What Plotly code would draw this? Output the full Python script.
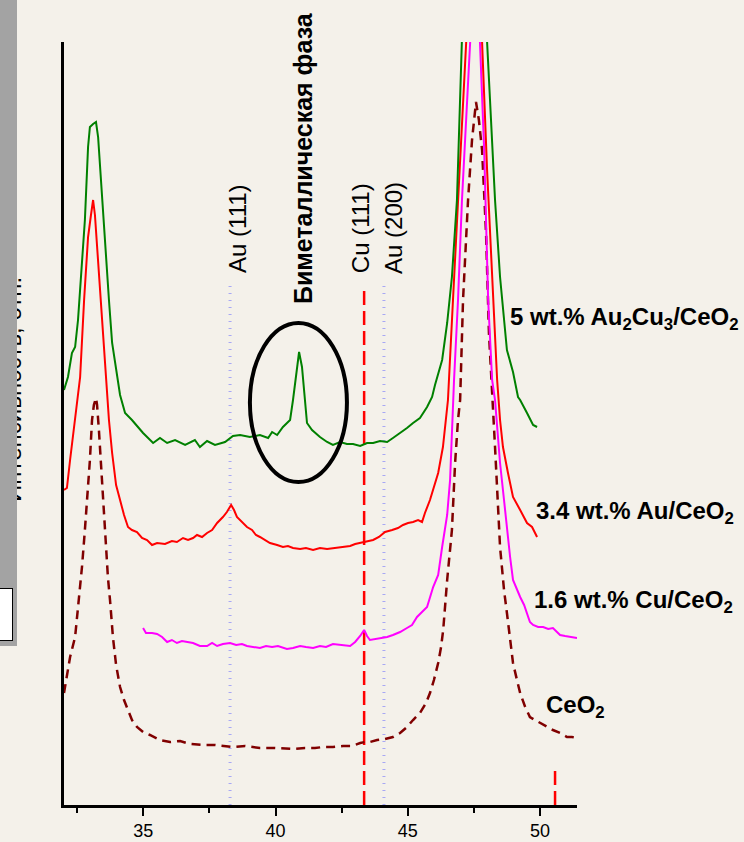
import plotly.graph_objects as go

# ---------------- data (2θ in degrees, intensity in arbitrary units) ----------------
tt_au2cu3 = [32.00, 32.15, 32.30, 32.42, 32.53, 32.68, 32.79, 32.91, 32.98, 33.10, 33.21, 33.29,
             33.44, 33.63, 33.70, 33.82, 34.00, 34.12, 34.31, 34.57, 34.99, 35.37, 35.63, 35.90,
             36.20, 36.58, 36.95, 37.14, 37.41, 37.71, 38.09, 38.39, 38.66, 39.03, 39.41, 39.72,
             39.87, 40.06, 40.28, 40.55, 40.66, 40.81, 40.89, 41.00, 41.19, 41.38, 41.68, 41.95,
             42.17, 42.44, 42.70, 42.93, 43.20, 43.46, 43.69, 43.95, 44.22, 44.44, 44.71, 44.97,
             45.20, 45.46, 45.73, 45.92, 46.03, 46.30, 46.49, 46.67, 46.86, 47.05, 47.30, 47.50,
             47.70, 48.00, 48.30, 48.49, 48.75, 48.98, 49.17, 49.25, 49.51, 49.74, 49.89]
i_au2cu3 = [415, 428, 452, 458, 485, 538, 585, 658, 678, 681, 683, 668,
            608, 522, 505, 462, 432, 410, 392, 385, 372, 362, 367, 362,
            365, 360, 365, 358, 364, 360, 363, 369, 370, 368, 370, 367,
            373, 370, 378, 385, 405, 438, 453, 438, 382, 375, 368, 363,
            360, 363, 361, 361, 359, 362, 362, 364, 363, 367, 372, 377,
            382, 387, 398, 408, 420, 445, 482, 528, 605, 763, 960, 1150,
            980, 763, 605, 528, 455, 433, 408, 405, 392, 380, 378]

tt_au = [32.00, 32.11, 32.23, 32.42, 32.61, 32.76, 32.91, 33.02, 33.10, 33.17, 33.29, 33.44,
         33.59, 33.70, 33.82, 33.97, 34.12, 34.27, 34.42, 34.57, 34.76, 34.95, 35.14, 35.33,
         35.52, 35.82, 36.08, 36.27, 36.50, 36.69, 36.88, 37.03, 37.22, 37.41, 37.60, 37.79,
         38.01, 38.16, 38.32, 38.43, 38.54, 38.73, 38.92, 39.11, 39.26, 39.41, 39.60, 39.79,
         40.06, 40.28, 40.47, 40.66, 40.93, 41.15, 41.42, 41.68, 41.95, 42.25, 42.55, 42.82,
         43.01, 43.20, 43.42, 43.69, 43.91, 44.14, 44.41, 44.63, 44.82, 45.01, 45.20, 45.39,
         45.54, 45.65, 45.84, 46.03, 46.15, 46.33, 46.52, 46.71, 46.90, 47.05, 47.21, 47.50,
         47.81, 48.00, 48.23, 48.38, 48.49, 48.60, 48.79, 48.98, 49.25, 49.51, 49.70, 49.81,
         49.89]
i_au = [315, 317, 345, 385, 428, 505, 568, 590, 605, 590, 542, 492,
        428, 385, 352, 320, 305, 290, 278, 275, 273, 267, 265, 260,
        262, 261, 264, 263, 267, 265, 267, 270, 268, 272, 275, 282,
        288, 293, 300, 295, 288, 283, 278, 275, 270, 268, 265, 262,
        260, 258, 259, 257, 256, 257, 255, 257, 256, 257, 258, 259,
        261, 262, 263, 265, 268, 273, 275, 277, 280, 282, 283, 285,
        283, 292, 305, 322, 332, 358, 405, 505, 605, 685, 763, 1100,
        763, 635, 505, 425, 385, 358, 332, 308, 295, 282, 278, 272,
        268]

tt_cu = [34.99, 35.10, 35.33, 35.52, 35.71, 35.90, 36.08, 36.27, 36.46, 36.65, 36.88, 37.14,
         37.41, 37.60, 37.79, 38.01, 38.28, 38.51, 38.73, 38.92, 39.15, 39.41, 39.64, 39.87,
         40.09, 40.28, 40.43, 40.66, 40.93, 41.15, 41.42, 41.68, 41.91, 42.17, 42.44, 42.67,
         42.82, 43.01, 43.20, 43.35, 43.46, 43.57, 43.76, 43.95, 44.22, 44.44, 44.71, 44.97,
         45.16, 45.35, 45.54, 45.73, 45.96, 46.15, 46.30, 46.49, 46.60, 46.75, 46.90, 47.05,
         47.36, 47.55, 47.73, 47.89, 48.04, 48.19, 48.30, 48.49, 48.64, 48.75, 48.87, 48.98,
         49.13, 49.25, 49.40, 49.51, 49.62, 49.74, 49.93, 50.12, 50.31, 50.49, 50.65, 50.76,
         50.95, 51.14, 51.40]
i_cu = [177, 172, 172, 171, 168, 163, 165, 162, 164, 163, 162, 159,
        159, 162, 159, 161, 162, 160, 161, 159, 158, 157, 159, 158,
        159, 157, 156, 157, 159, 158, 157, 159, 158, 161, 160, 159,
        159, 163, 169, 175, 169, 165, 166, 167, 168, 170, 173, 177,
        180, 188, 193, 198, 218, 230, 258, 290, 325, 425, 505, 605,
        763, 1050, 763, 655, 505, 425, 405, 342, 305, 275, 248, 225,
        215, 208, 200, 192, 183, 180, 178, 178, 176, 177, 173, 170,
        169, 168, 167]

tt_ceo2 = [32.00, 32.23, 32.42, 32.61, 32.68, 32.79, 32.87, 32.98, 33.06, 33.13, 33.21, 33.25,
           33.32, 33.40, 33.48, 33.59, 33.66, 33.74, 33.85, 33.97, 34.12, 34.27, 34.42, 34.57,
           34.76, 34.99, 35.25, 35.63, 36.01, 36.39, 36.77, 37.26, 37.71, 38.09, 38.39, 38.85,
           39.41, 39.98, 40.66, 41.11, 41.49, 41.80, 42.17, 42.55, 42.89, 43.20, 43.38, 43.57,
           43.84, 44.14, 44.44, 44.71, 44.97, 45.20, 45.46, 45.69, 45.84, 45.99, 46.15, 46.26,
           46.34, 46.49, 46.60, 46.67, 46.79, 46.90, 46.98, 47.09, 47.28, 47.43, 47.58, 47.69,
           47.81, 47.96, 48.07, 48.19, 48.30, 48.49, 48.64, 48.75, 48.87, 48.98, 49.13, 49.25,
           49.44, 49.62, 49.81, 50.00, 50.27, 50.49, 50.76, 51.02, 51.21, 51.40]
i_ceo2 = [112, 148, 168, 215, 238, 275, 302, 345, 385, 400, 407, 400,
          375, 340, 312, 260, 228, 205, 168, 140, 118, 105, 95, 85,
          78, 73, 70, 65, 63, 64, 61, 60, 60, 59, 58, 59,
          57, 57, 56, 57, 57, 58, 58, 59, 59, 62, 63, 63,
          65, 66, 68, 72, 78, 85, 92, 102, 112, 125, 142, 158,
          175, 225, 255, 275, 342, 385, 405, 505, 605, 665, 703, 685,
          655, 572, 472, 405, 358, 258, 215, 192, 165, 142, 125, 112,
          98, 88, 85, 82, 78, 75, 72, 68, 68, 67]

ref_names = ["Au (111)", "Cu (111)", "Au (200)", "Cu (200)"]
ref_pos = [38.28, 43.35, 44.10, 50.57]
ref_top = [520, 520, 520, 40]

sample_labels = ["5 wt.% Au<sub>2</sub>Cu<sub>3</sub>/CeO<sub>2</sub>",
                 "3.4 wt.% Au/CeO<sub>2</sub>",
                 "1.6 wt.% Cu/CeO<sub>2</sub>",
                 "CeO<sub>2</sub>"]
x_ticks = [35, 40, 45, 50]

# ---------------- figure ----------------
BG = "#f4f1ea"
FONT = "Arial, Liberation Sans, sans-serif"

fig = go.Figure()

# reference lines
ref_styles = [dict(color="#a8a8f4", width=3, dash="1px,6px"),
              dict(color="#ff0000", width=2.5, dash="14px,6px"),
              dict(color="#a8a8f4", width=3, dash="1px,6px"),
              dict(color="#ff0000", width=2.5, dash="14px,6px")]
for xp, top, st, nm in zip(ref_pos, ref_top, ref_styles, ref_names):
    fig.add_trace(go.Scatter(x=[xp, xp], y=[0, top], mode="lines", line=st,
                             name=nm, showlegend=False, hoverinfo="skip"))

fig.add_trace(go.Scatter(x=tt_ceo2, y=i_ceo2, mode="lines", name="CeO2",
                         line=dict(color="#800000", width=2.5, dash="9px,6px"), showlegend=False))
fig.add_trace(go.Scatter(x=tt_cu, y=i_cu, mode="lines", name="1.6 wt.% Cu/CeO2",
                         line=dict(color="#ff00ff", width=2), showlegend=False))
fig.add_trace(go.Scatter(x=tt_au, y=i_au, mode="lines", name="3.4 wt.% Au/CeO2",
                         line=dict(color="#ff0000", width=2), showlegend=False))
fig.add_trace(go.Scatter(x=tt_au2cu3, y=i_au2cu3, mode="lines", name="5 wt.% Au2Cu3/CeO2",
                         line=dict(color="#008000", width=2), showlegend=False))

# ellipse around the bimetallic peak
fig.add_shape(type="circle", xref="x", yref="y", x0=39.03, x1=42.70, y0=323, y1=482,
              line=dict(color="black", width=4))

annotations = []
# rotated phase labels
for txt, xx, yy, bold, sz in [("Au (111)", 38.54, 577, False, 24),
                              ("Биметаллическая фаза", 41.04, 647, True, 25),
                              ("Cu (111)", 43.20, 577, False, 24),
                              ("Au (200)", 44.44, 577, False, 24)]:
    annotations.append(dict(text=("<b>%s</b>" % txt) if bold else txt, x=xx, y=yy,
                            xref="x", yref="y", showarrow=False, textangle=-90,
                            font=dict(family=FONT, size=sz, color="black"),
                            xanchor="center", yanchor="middle"))

# sample labels (paper coordinates)
for txt, px, py in zip(sample_labels, [508, 534, 532, 544], [319, 512, 601, 706]):
    annotations.append(dict(text="<b>%s</b>" % txt, x=(px - 64) / 513, y=(805 - py) / 763,
                            xref="paper", yref="paper", showarrow=False,
                            font=dict(family=FONT, size=24, color="black"),
                            xanchor="left", yanchor="middle"))

# cut-off y-axis title, then grey strip and white box on top
annotations.append(dict(text="Интенсивность, отн.", x=(12 - 64) / 513, y=(805 - 390) / 763,
                        xref="paper", yref="paper", showarrow=False, textangle=-90,
                        font=dict(family=FONT, size=24, color="black"),
                        xanchor="center", yanchor="middle"))
annotations.append(dict(text=" ", x=(0 - 64) / 513, y=(805 - 0) / 763, xref="paper", yref="paper",
                        showarrow=False, width=17, height=646, bgcolor="#a3a3a3",
                        borderwidth=0, borderpad=0, xanchor="left", yanchor="top"))
annotations.append(dict(text=" ", x=(-2 - 64) / 513, y=(805 - 588) / 763, xref="paper", yref="paper",
                        showarrow=False, width=13, height=51, bgcolor="white",
                        bordercolor="black", borderwidth=1, borderpad=0,
                        xanchor="left", yanchor="top"))

fig.update_layout(
    width=744, height=842,
    margin=dict(l=64, r=167, t=42, b=37, autoexpand=False),
    paper_bgcolor=BG, plot_bgcolor=BG,
    showlegend=False,
    annotations=annotations,
    xaxis=dict(range=[32, 51.4], showgrid=False, zeroline=False, showline=True,
               linecolor="black", linewidth=2.5, ticks="outside", ticklen=8, tickwidth=2,
               tickcolor="black", tickvals=x_ticks, ticktext=[str(v) for v in x_ticks],
               tickfont=dict(family=FONT, size=18, color="black"),
               minor=dict(tickvals=[32.5, 37.5, 42.5, 47.5], ticks="outside", ticklen=5,
                          tickwidth=2, tickcolor="black")),
    yaxis=dict(range=[0, 763], showgrid=False, zeroline=False, showline=True,
               linecolor="black", linewidth=2.5, showticklabels=False, ticks=""),
)

fig.write_html("out.html", config={"displayModeBar": False},
               post_script="document.body.style.margin='0';document.body.style.padding='0';"
                           "document.documentElement.style.background='%s';" % BG)
